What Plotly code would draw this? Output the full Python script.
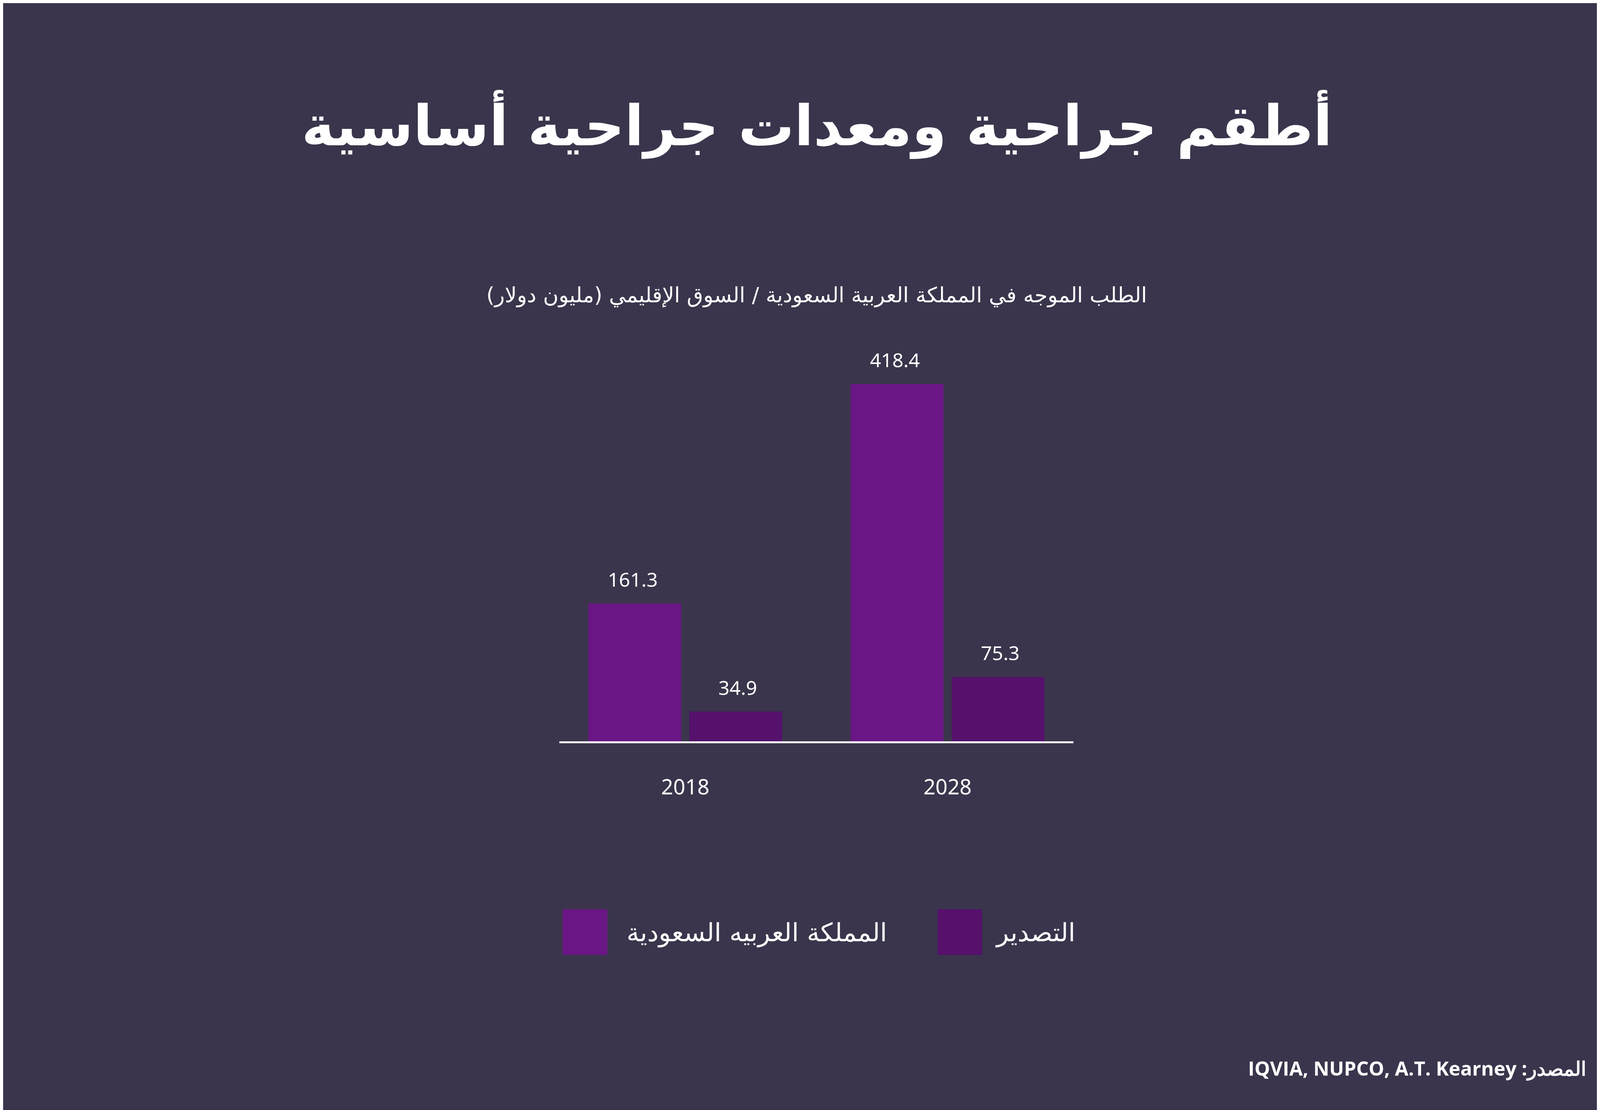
import plotly.graph_objects as go

# ---- data ----
years = ["2018", "2028"]
series_names = ["المملكة العربيه السعودية", "التصدير"]
ksa_values = [161.3, 418.4]
export_values = [34.9, 75.3]
series_values = [ksa_values, export_values]
series_colors = ["#6a1785", "#55116b"]

title_text = "أطقم جراحية ومعدات جراحية أساسية"
subtitle_text = "الطلب الموجه في المملكة العربية السعودية / السوق الإقليمي (مليون دولار)"
source_text = "المصدر: IQVIA, NUPCO, A.T. Kearney"

BG = "#3a354c"
W, H = 4167, 2842
L, R, T, B = 1424, 2740, 884, 1890  # plot area in pixels

def px(X):
    return (X - L) / (R - L)

def py(Y):
    return (B - Y) / (B - T)

fig = go.Figure()
for name, vals, col in zip(series_names, series_values, series_colors):
    fig.add_trace(go.Bar(x=years, y=vals, name=name, marker=dict(color=col, line=dict(width=0)),
                         showlegend=False, hoverinfo="x+y"))

annotations = []
offsets = [-0.2, 0.2]
for vals, off in zip(series_values, offsets):
    for i, v in enumerate(vals):
        annotations.append(dict(x=i + off, y=v, xref="x", yref="y", text=f"{v:.1f}",
                                showarrow=False, yanchor="bottom", yshift=26,
                                font=dict(family="Noto Sans", size=50, color="white")))

# subtitle
annotations.append(dict(x=0.5, y=py(747), xref="paper", yref="paper",
                        text="\u200f" + subtitle_text + "\u200f", showarrow=False,
                        xanchor="center", yanchor="middle",
                        font=dict(family="DejaVu Sans", size=54, color="white")))

# legend (manual, large squares)
shapes = []
leg_sq = [(1432, 1547), (2392, 2506)]
leg_txt_x = [1594, 2538]
for (x0, x1), tx, name, col in zip(leg_sq, leg_txt_x, series_names, series_colors):
    shapes.append(dict(type="rect", xref="paper", yref="paper", x0=px(x0), x1=px(x1),
                       y0=py(2437), y1=py(2320), fillcolor=col, line=dict(width=0)))
    annotations.append(dict(x=px(tx), y=py(2380), xref="paper", yref="paper", text=name,
                            showarrow=False, xanchor="left", yanchor="middle",
                            font=dict(family="DejaVu Sans", size=65, color="white")))

# source
annotations.append(dict(x=px(4055), y=py(2727), xref="paper", yref="paper",
                        text="\u202b" + source_text + "\u202c", showarrow=False,
                        xanchor="right", yanchor="middle",
                        font=dict(family="Open Sans", size=50, color="white", weight="bold")))

fig.update_layout(
    width=W, height=H,
    paper_bgcolor=BG, plot_bgcolor=BG,
    margin=dict(l=L, r=W - R, t=T, b=H - B, pad=0),
    barmode="group", bargap=0.23, bargroupgap=0.08,
    title=dict(text=f"<b>{title_text}</b>", x=0.5, xanchor="center",
               y=1 - 314 / H, yanchor="middle", yref="container",
               font=dict(family="DejaVu Sans", size=143, color="white")),
    xaxis=dict(type="category", range=[-0.48, 1.48], showgrid=False, zeroline=False,
               showline=True, linecolor="white", linewidth=5,
               ticks="", ticklabelstandoff=66,
               tickfont=dict(family="Noto Sans", size=54, color="white")),
    yaxis=dict(range=[0, 460], visible=False, showgrid=False, zeroline=False),
    annotations=annotations, shapes=shapes,
)

fig.write_html("out.html")
